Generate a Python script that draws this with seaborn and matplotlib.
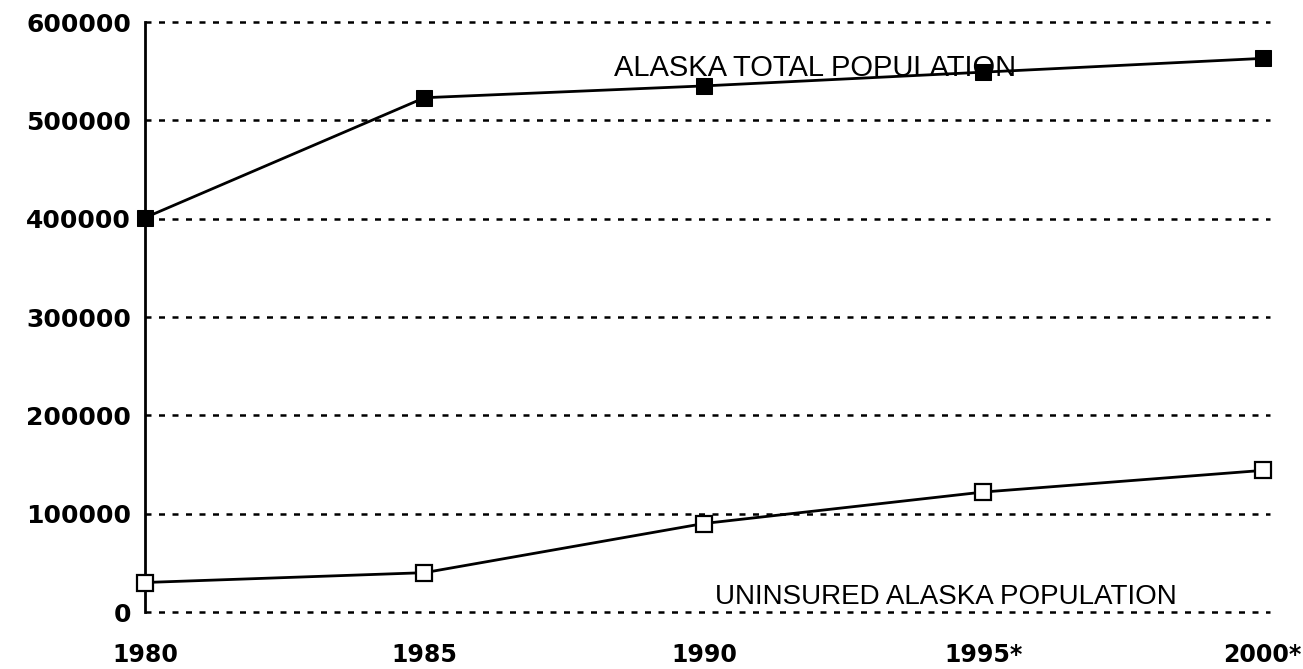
import pandas as pd
import seaborn as sns
import matplotlib.pyplot as plt

# values
years = [1980, 1985, 1990, 1995, 2000]
year_labels = ["1980", "1985", "1990", "1995*", "2000*"]
total_pop = [401000, 523000, 535000, 549000, 563000]
uninsured_pop = [30000, 40000, 90000, 122000, 144000]
y_ticks = [0, 100000, 200000, 300000, 400000, 500000, 600000]

df = pd.DataFrame({"year": years, "total": total_pop, "uninsured": uninsured_pop})

sns.set_style("white")
plt.rcParams["font.family"] = ["DejaVu Sans"]
plt.rcParams["text.color"] = "black"

fig = plt.figure(figsize=(13.03, 6.69), dpi=100)
ax = fig.add_axes([145 / 1303, 57 / 669, (1270 - 145) / 1303, (612 - 22) / 669])

# dotted gridlines first so the series sit on top
for v in y_ticks:
    ax.axhline(v, color="black", lw=1.8, dashes=(2.4, 3.0), zorder=1, clip_on=False)

sns.lineplot(data=df, x="year", y="total", ax=ax, color="black", lw=2,
             marker="s", markersize=11, markerfacecolor="black",
             markeredgecolor="black", clip_on=False, zorder=3)
sns.lineplot(data=df, x="year", y="uninsured", ax=ax, color="black", lw=2,
             marker="s", markersize=11, markerfacecolor="white",
             markeredgecolor="black", markeredgewidth=1.6, clip_on=False, zorder=3)

ax.set_xlim(1980, 2000.13)
ax.set_ylim(0, 600000)
ax.set_xticks(years)
ax.set_xticklabels(year_labels, fontsize=17, fontweight="bold", color="black")
ax.set_yticks(y_ticks)
ax.set_yticklabels([str(v) for v in y_ticks], fontsize=18, fontweight="bold", color="black")
ax.tick_params(axis="y", direction="inout", length=10, width=1.2, pad=5, colors="black")
ax.tick_params(axis="x", length=0, pad=22)
ax.set_xlabel("")
ax.set_ylabel("")

for side in ["top", "right", "bottom"]:
    ax.spines[side].set_visible(False)
ax.spines["left"].set_linewidth(2)
ax.spines["left"].set_color("black")

ax.text(1988.4, 553000, "ALASKA TOTAL POPULATION", family="Liberation Sans",
        fontsize=21, va="center", ha="left", color="black", zorder=2)
ax.text(1990.2, 15000, "UNINSURED ALASKA POPULATION", family="Liberation Sans",
        fontsize=20, va="center", ha="left", color="black", zorder=2)

plt.savefig("out.png", dpi=100)
